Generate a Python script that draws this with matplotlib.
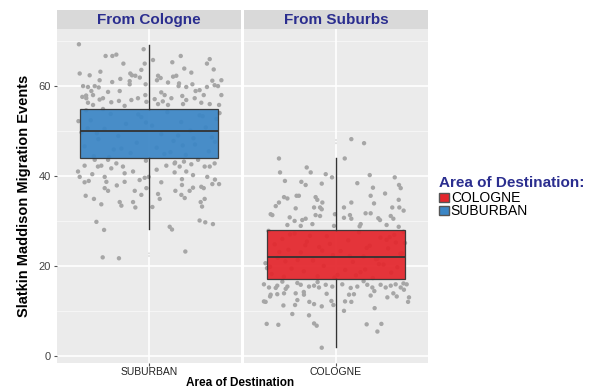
import numpy as np
import matplotlib.pyplot as plt
from matplotlib.patches import Patch

plt.rcParams['font.family'] = ['Liberation Sans', 'DejaVu Sans']

# facet / category labels
facets = ['From Cologne', 'From Suburbs']
dest = ['SUBURBAN', 'COLOGNE']
box_colors = ['#3B86C6', '#E4262C']

# box statistics (whislo, q1, med, q3, whishi)
stats_cologne = dict(whislo=28.2, q1=44.0, med=50.0, q3=55.0, whishi=69.1)
stats_suburbs = dict(whislo=2.0, q1=17.0, med=22.0, q3=28.0, whishi=44.0)
outliers_cologne = [22.2, 22.8]
outliers_suburbs = [47.3, 48.0]

# jittered observations: values and horizontal jitter (category units)
cologne_y = [69.3, 66.7, 66.7, 67.0, 68.2, 65.0, 65.0, 65.8, 65.3, 66.7, 65.0, 66.0,
             62.8, 62.4, 63.2, 62.8, 62.4, 62.3, 63.6, 61.6, 61.3, 62.3, 61.8, 62.1,
             62.3, 63.0, 63.7, 61.2, 61.3, 61.1, 60.4, 60.0, 59.8, 60.0, 59.7, 58.9,
             58.7, 58.9, 60.4, 61.3, 60.8, 60.6, 60.0, 59.8, 60.4, 58.9, 60.0, 59.8,
             60.2, 57.6, 57.3, 58.0, 57.0, 57.3, 56.4, 56.7, 56.9, 57.3, 58.0, 57.1,
             58.6, 58.0, 57.3, 57.8, 56.9, 57.3, 58.0, 58.0, 56.3, 55.8, 55.6, 56.5,
             56.0, 55.8, 56.0, 56.3, 56.0, 55.8,
             54.6, 54.2, 53.8, 53.5, 53.1, 52.7, 52.4, 52.0, 51.6, 51.2, 50.8, 50.5,
             50.1, 49.7, 49.3, 48.9, 48.6, 48.2, 47.8, 47.4, 47.0, 46.6, 46.3, 45.9,
             45.5, 45.1, 44.7, 44.4, 54.9, 53.3, 51.9, 50.6, 49.0, 47.6, 46.1, 44.9,
             54.0, 52.2, 48.4, 45.3, 53.7, 49.5, 46.8, 44.2,
             42.3, 41.0, 39.8, 38.6, 38.9, 43.6, 42.1, 42.3, 43.6, 41.7, 42.8, 42.1,
             40.6, 41.0, 39.8, 38.7, 37.3, 36.7, 38.7, 39.1, 39.6, 39.8, 37.3, 36.7,
             35.8, 35.6, 34.9, 33.7, 34.2, 33.4, 34.2, 33.0, 33.1, 29.8, 28.0, 21.9,
             21.7, 42.3, 42.8, 42.1, 43.2, 42.6, 43.6, 42.1, 42.1, 42.8, 40.8, 41.0,
             40.2, 39.8, 38.6, 39.3, 38.0, 37.4, 37.6, 37.3, 38.2, 38.2, 36.7, 36.7,
             36.0, 34.9, 35.8, 35.1, 34.2, 34.9, 33.2, 28.7, 28.1, 30.1, 29.7, 29.3,
             23.2,
             61.9, 59.1, 57.9, 56.6, 63.9, 60.9, 43.4, 41.4, 40.4, 39.2, 37.9, 43.0]
cologne_jit = [-0.457, -0.283, -0.239, -0.213, -0.035, -0.167, -0.028, 0.026, 0.152, 0.207, 0.378, 0.396,
               -0.452, -0.387, -0.317, -0.122, -0.111, -0.089, -0.050, -0.187, -0.322, 0.059, 0.076, 0.157,
               0.178, 0.276, 0.422, 0.413, 0.472, -0.126, -0.126, -0.430, -0.398, -0.354, -0.328, -0.376,
               -0.267, -0.191, -0.022, 0.052, 0.124, 0.196, 0.193, 0.243, 0.283, 0.304, 0.450, 0.378,
               0.428, -0.435, -0.409, -0.365, -0.322, -0.300, -0.246, -0.196, -0.115, -0.072, -0.024, 0.037,
               0.080, 0.102, 0.146, 0.217, 0.243, 0.298, 0.357, 0.472, -0.398, -0.365, -0.159, -0.017,
               0.059, 0.124, 0.222, 0.341, 0.396, 0.457,
               -0.41, 0.12, -0.25, 0.33, -0.05, 0.44, -0.38, 0.21, -0.15, 0.02, 0.37, -0.29,
               0.27, -0.44, 0.08, -0.20, 0.41, -0.33, 0.16, -0.08, 0.30, -0.42, 0.05, -0.23,
               0.39, -0.12, 0.24, -0.36, -0.30, 0.35, -0.02, -0.40, 0.19, 0.43, -0.18, 0.10,
               0.46, -0.46, 0.29, 0.14, -0.07, -0.34, 0.22, -0.26,
               -0.420, -0.463, -0.452, -0.420, -0.393, -0.354, -0.333, -0.311, -0.267, -0.246, -0.213, -0.170,
               -0.159, -0.104, -0.289, -0.278, -0.289, -0.267, -0.159, -0.061, -0.028, -0.002, -0.017, -0.093,
               -0.050, -0.413, -0.359, -0.311, -0.191, -0.180, -0.104, -0.089, 0.022, -0.343, -0.293, -0.302,
               -0.196, 0.113, 0.167, 0.200, 0.228, 0.276, 0.320, 0.363, 0.396, 0.428, 0.167, 0.243,
               0.287, 0.380, 0.080, 0.215, 0.215, 0.287, 0.341, 0.357, 0.413, 0.457, 0.172, 0.265,
               0.059, 0.070, 0.211, 0.233, 0.337, 0.363, 0.346, 0.135, 0.150, 0.330, 0.367, 0.417,
               0.237,
               -0.06, 0.33, -0.41, 0.09, 0.23, -0.24, -0.02, 0.05, -0.37, 0.43, -0.21, 0.17]

suburbs_y = [48.2, 47.3, 43.9, 43.9, 40.8, 41.9, 40.8, 40.4, 39.7, 38.9, 38.7, 38.0,
             38.3, 40.2, 38.4, 39.7, 38.0, 37.3, 37.4, 36.1, 35.3, 35.0, 35.6, 35.6,
             35.3, 34.7, 34.1, 34.1, 33.3, 32.8, 33.0, 33.0, 32.6, 31.5, 31.3, 30.8,
             30.0, 30.2, 30.5, 31.3, 31.1, 29.3, 29.1, 28.9, 31.5, 28.9, 33.0, 34.1,
             31.3, 30.5, 30.7, 35.6, 33.9, 31.7, 31.7, 30.6, 30.2, 33.0, 34.7, 33.0,
             32.3, 31.1, 30.5, 29.3, 28.8, 29.1, 28.7,
             27.8, 27.5, 27.2, 26.9, 26.6, 26.3, 26.0, 25.7, 25.4, 25.1, 24.8, 24.5,
             24.2, 23.9, 23.6, 23.3, 23.0, 22.7, 22.4, 22.1, 21.8, 21.5, 21.2, 20.9,
             20.6, 20.3, 20.0, 19.7, 19.4, 19.1, 18.8, 18.5, 18.2, 17.9, 17.6, 17.3,
             27.6, 26.7, 25.8, 24.9, 24.0, 23.1, 22.2, 21.3, 20.4, 19.5, 18.6, 17.7,
             27.0, 25.2, 23.4, 21.6, 19.8, 18.0, 26.4, 24.6, 22.8, 21.0, 19.2, 17.4,
             15.9, 15.2, 15.6, 15.1, 15.4, 14.9, 16.2, 15.8, 15.4, 15.6, 15.2, 15.8,
             15.4, 13.6, 13.2, 13.7, 13.9, 13.9, 13.6, 13.8, 12.1, 12.0, 11.2, 11.3,
             12.4, 12.0, 11.5, 11.0, 12.2, 11.3, 9.3, 9.0, 7.1, 6.9, 7.2, 6.7,
             1.8, 15.9, 15.1, 13.7, 13.6, 12.1, 10.0, 12.0, 15.4, 15.8, 15.2, 13.4,
             10.6, 15.8, 15.2, 15.6, 15.9, 15.2, 14.7, 13.0, 13.2, 13.9, 15.9, 13.0,
             12.0, 7.0, 7.1, 5.4,
             16.5, 16.4, 16.6, 14.4, 14.2, 16.1]
suburbs_jit = [0.100, 0.183, -0.372, 0.057, -0.365, -0.191, -0.165, -0.067, -0.026, -0.333, -0.226, -0.198,
               -0.093, 0.220, 0.139, 0.383, 0.411, 0.422, 0.241, 0.320, -0.339, -0.317, -0.257, -0.242,
               -0.133, -0.122, -0.089, -0.372, -0.393, -0.263, -0.143, -0.104, -0.093, -0.426, -0.415, -0.302,
               -0.270, -0.220, -0.198, -0.133, -0.104, -0.154, -0.317, -0.230, -0.007, -0.013, 0.052, 0.100,
               0.091, 0.100, 0.052, 0.226, 0.248, 0.193, 0.226, 0.276, 0.287, 0.367, 0.409, 0.413,
               0.441, 0.357, 0.374, 0.161, 0.154, 0.330, 0.409,
               -0.44, 0.15, -0.27, 0.38, -0.06, 0.29, -0.35, 0.08, -0.19, 0.45, -0.40, 0.22,
               -0.11, 0.34, -0.31, 0.03, -0.23, 0.42, -0.02, 0.18, -0.38, 0.26, -0.15, 0.11,
               -0.46, 0.31, -0.08, 0.40, -0.29, 0.06, -0.21, 0.36, -0.42, 0.13, -0.34, 0.24,
               0.44, -0.17, 0.33, -0.04, 0.20, -0.37, 0.09, -0.25, 0.28, -0.45, 0.16, -0.12,
               -0.30, 0.39, -0.09, 0.27, -0.43, 0.01, 0.35, -0.20, 0.43, -0.33, 0.19, -0.01,
               -0.470, -0.437, -0.383, -0.393, -0.317, -0.328, -0.252, -0.230, -0.176, -0.143, -0.111, -0.067,
               -0.024, -0.426, -0.430, -0.383, -0.339, -0.263, -0.209, -0.061, -0.470, -0.459, -0.343, -0.267,
               -0.252, -0.174, -0.143, -0.093, -0.030, -0.017, -0.285, -0.176, -0.452, -0.376, -0.143, -0.126,
               -0.093, 0.041, 0.096, 0.117, 0.085, 0.059, 0.052, 0.100, 0.139, 0.204, 0.237, 0.226,
               0.252, 0.291, 0.324, 0.357, 0.389, 0.422, 0.443, 0.335, 0.396, 0.374, 0.461, 0.476,
               0.470, 0.200, 0.296, 0.270,
               -0.35, -0.12, 0.18, 0.25, -0.21, 0.44]

navy = '#2B2E8F'
W, H = 594, 389
fig = plt.figure(figsize=(W / 100, H / 100), dpi=100)

panels = [(57, stats_cologne, outliers_cologne, cologne_y, cologne_jit),
          (244, stats_suburbs, outliers_suburbs, suburbs_y, suburbs_jit)]
top, bottom, pw = 29, 363, 184

for i, (left, st, outl, ys, jit) in enumerate(panels):
    ax = fig.add_axes([left / W, (H - bottom) / H, pw / W, (bottom - top) / H])
    ax.set_facecolor('#EBEBEB')
    ax.set_xlim(-0.6, 0.6)
    ax.set_ylim(-1.6, 72.7)
    for v in [10, 30, 50, 70]:
        ax.axhline(v, color='#F7F7F7', lw=0.6, zorder=0)
    for v in [0, 20, 40, 60]:
        ax.axhline(v, color='white', lw=1.2, zorder=0)
    ax.axvline(0, color='white', lw=1.2, zorder=0)
    ax.scatter(jit, ys, s=10, color='#A6A6A6', edgecolors='none', zorder=2)
    bstats = dict(st, fliers=[], label=dest[i])
    ax.bxp([bstats], positions=[0], widths=0.9, patch_artist=True,
           showcaps=False, manage_ticks=False,
           boxprops=dict(facecolor=box_colors[i], edgecolor='#333333', lw=0.9, alpha=0.93),
           medianprops=dict(color='#333333', lw=1.3),
           whiskerprops=dict(color='#333333', lw=1.0), zorder=3)
    ax.scatter([0] * len(outl), outl, s=2, color='#DDDDDD', edgecolors='none', zorder=4)
    ax.set_xticks([0])
    ax.set_xticklabels([dest[i]], fontsize=7.5, color='#222222')
    ax.tick_params(axis='x', length=2.5, color='#555555', pad=0.5)
    if i == 0:
        ax.set_yticks([0, 20, 40, 60])
        ax.tick_params(axis='y', labelsize=8, labelcolor='#444444', length=2.5, color='#555555', pad=2)
        ax.set_ylabel('Slatkin Maddison Migration Events', fontsize=10.5, fontweight='bold', labelpad=5)
    else:
        ax.set_yticks([])
        ax.set_xlabel('Area of Destination', fontsize=8.5, fontweight='bold', labelpad=0, x=-0.02)
    for s in ax.spines.values():
        s.set_visible(False)
    # facet strip
    sax = fig.add_axes([left / W, (H - top) / H, pw / W, 19 / H])
    sax.set_facecolor('#D9D9D9')
    sax.set_xticks([])
    sax.set_yticks([])
    for s in sax.spines.values():
        s.set_visible(False)
    sax.text(0.5, 0.45, facets[i], ha='center', va='center', fontsize=11, fontweight='bold',
             color=navy, transform=sax.transAxes)

handles = [Patch(facecolor=box_colors[1], edgecolor='#555555', label=dest[1]),
           Patch(facecolor=box_colors[0], edgecolor='#555555', label=dest[0])]
leg = fig.legend(handles=handles, title='Area of Destination:', loc='upper left',
                 bbox_to_anchor=(439 / W, (H - 176) / H), frameon=False, fontsize=10,
                 handlelength=0.7, handleheight=0.6, handletextpad=0.15, labelspacing=-0.1,
                 borderpad=0, borderaxespad=0)
leg.get_title().set_fontweight('bold')
leg.get_title().set_color(navy)
leg.get_title().set_fontsize(11)
leg._legend_box.align = 'left'
leg._legend_box.sep = 1

fig.savefig('out.png', dpi=100)
